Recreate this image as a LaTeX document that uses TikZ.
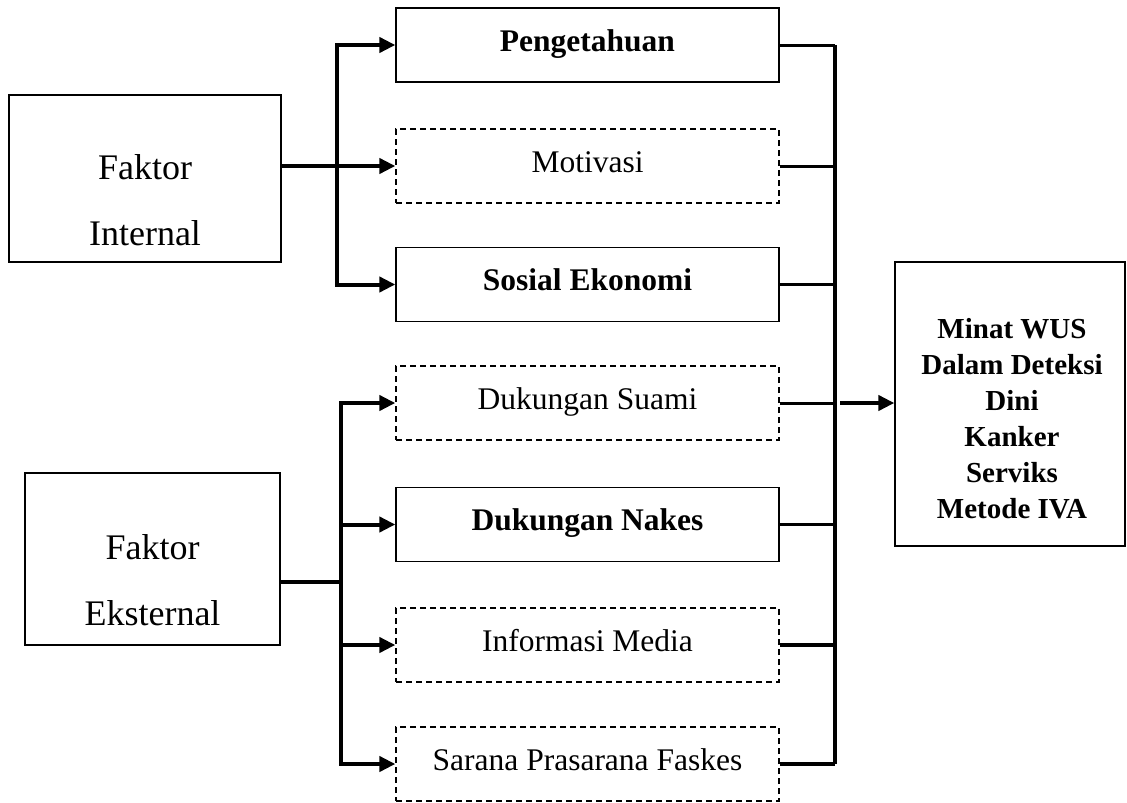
\documentclass[tikz,border=0pt]{standalone}
\usepackage{fontspec}
\setmainfont{Liberation Serif}
\usetikzlibrary{arrows.meta}
\begin{document}
\begin{tikzpicture}[x=1pt,y=-1pt,
  box/.style={draw,line width=1.3pt,minimum width=383pt,minimum height=74pt,inner sep=0pt,text height=20pt,text depth=8pt,font=\fontsize{31.5}{36}\selectfont},
  solidbox/.style={box,font=\fontsize{31.5}{36}\selectfont\bfseries},
  dashbox/.style={box,dash pattern=on 6pt off 4pt},
  bigbox/.style={draw,line width=1.3pt,inner sep=0pt},
  bigtext/.style={align=center,inner sep=0pt,anchor=base,font=\fontsize{36}{66}\selectfont},
  restext/.style={align=center,inner sep=0pt,anchor=base,font=\fontsize{29}{36}\selectfont\bfseries},
  conn/.style={line width=4pt},
  outline/.style={line width=3pt},
  arr/.style={conn,-{Triangle[length=16pt,width=15pt]}}]
\useasboundingbox (0,0) rectangle (1127,803);

% left boxes
\node[bigbox,minimum width=272pt,minimum height=167pt] (fi) at (145,178.5) {};
\node[bigtext] (fit) at (145,245) {Faktor\\Internal};
\node[bigbox,minimum width=255pt,minimum height=172pt] (fe) at (152.5,559) {};
\node[bigtext] (fet) at (152.5,625) {Faktor\\Eksternal};

% middle boxes
\node[solidbox] (pen) at (587.5,45) {Pengetahuan};
\node[dashbox] (mot) at (587.5,166) {Motivasi};
\node[solidbox] (sos) at (587.5,284.5) {Sosial Ekonomi};
\node[dashbox] (su) at (587.5,403) {Dukungan Suami};
\node[solidbox] (na) at (587.5,524.5) {Dukungan Nakes};
\node[dashbox] (inf) at (587.5,645) {Informasi Media};
\node[dashbox] (sar) at (587.5,764) {Sarana Prasarana Faskes};

% result box
\node[bigbox,minimum width=230pt,minimum height=284pt] (res) at (1010,404) {};
\node[restext] (rest) at (1012,518) {Minat WUS\\Dalam Deteksi\\Dini\\Kanker\\Serviks\\Metode IVA};

% bus coordinates
\coordinate (ib) at (337,0);
\coordinate (eb) at (341,0);
\coordinate (rb) at (835,0);
\coordinate (fej) at (341,582);

% internal connectors
\draw[arr] (ib|-sos.west) -- (ib|-pen.west) -- (pen.west);
\draw[arr] (ib|-pen.west) -- (ib|-sos.west) -- (sos.west);
\draw[arr] (fi.east|-mot.west) -- (mot.west);

% external connectors
\draw[conn] (fe.east|-fej) -- (fej);
\draw[arr] (eb|-sar.west) -- (eb|-su.west) -- (su.west);
\draw[arr] (eb|-su.west) -- (eb|-sar.west) -- (sar.west);
\draw[arr] (eb|-na.west) -- (na.west);
\draw[arr] (eb|-inf.west) -- (inf.west);

% right bus
\draw[outline] (pen.east) -- (rb|-pen.east);
\draw[outline] (mot.east) -- (rb|-mot.east);
\draw[outline] (sos.east) -- (rb|-sos.east);
\draw[outline] (su.east) -- (rb|-su.east);
\draw[outline] (na.east) -- (rb|-na.east);
\draw[conn] (inf.east) -- (rb|-inf.east);
\draw[conn] (sar.east) -- (rb|-sar.east);
\draw[conn] (rb|-pen.east) -- (rb|-sar.east);
\draw[arr] ([xshift=5pt]rb|-su.east) -- (res.west|-su.east);
\end{tikzpicture}
\end{document}
